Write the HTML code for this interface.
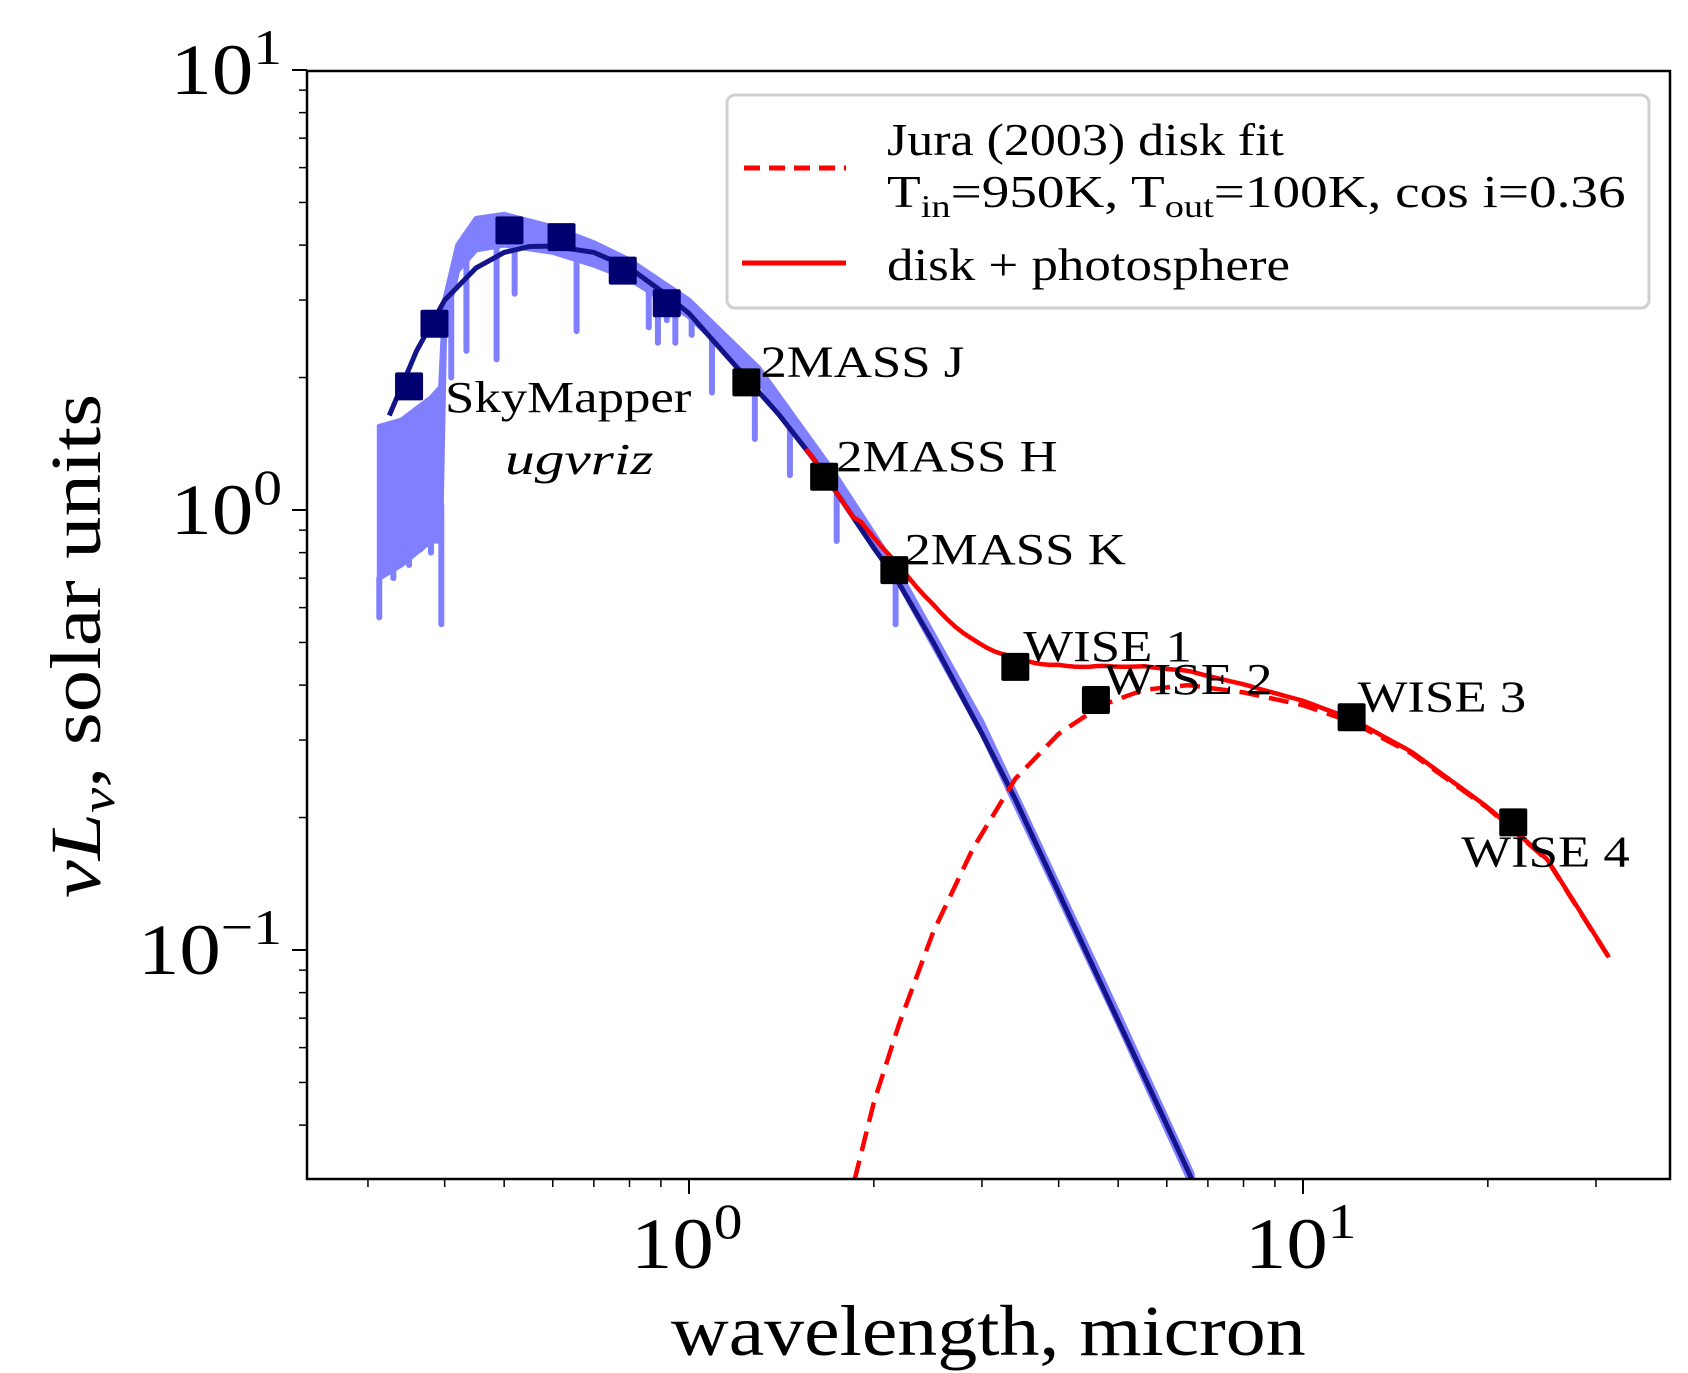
<!DOCTYPE html>
<html><head><meta charset="utf-8"><style>
html,body{margin:0;padding:0;background:#fff;}
svg{display:block;font-family:"Liberation Serif","DejaVu Serif",serif;}
</style></head><body>
<svg id="chart" width="1688" height="1373" viewBox="0 0 1688 1373" xmlns="http://www.w3.org/2000/svg">
<g id="plot"></g>
</svg>
<script>
// ---- data ----
const photoWave = [0.325,0.36,0.40,0.45,0.50,0.55,0.60,0.70,0.80,0.90,1.0,1.2,1.4,1.6,1.8,2.0,2.2,2.5,3.0,3.4,4.0,5.0,6.0,6.6];
const photoFlux = [1.64,2.3,3.0,3.55,3.85,3.97,3.98,3.85,3.55,3.15,2.8,2.1,1.65,1.3,1.02,0.82,0.68,0.50,0.31,0.22,0.135,0.069,0.040,0.030];
const diskWave = [1.86,2.0,2.2,2.5,2.9,3.4,4.0,4.7,5.5,6.5,8,10,12,15,20,25,31.5];
const diskFlux = [0.030,0.045,0.068,0.11,0.17,0.245,0.31,0.36,0.39,0.40,0.385,0.36,0.33,0.28,0.21,0.16,0.096];
const specWave = [0.313,0.34,0.36,0.38,0.394,0.40,0.42,0.45,0.50,0.60,0.70,0.80,1.0,1.3,1.7,2.2,3.0,4.0,5.0,6.6];
const specTop = [1.55,1.6,1.7,1.8,1.9,3.0,4.0,4.6,4.7,4.4,4.05,3.7,3.0,2.1,1.25,0.72,0.33,0.14,0.072,0.031];
const specBot = [0.7,0.75,0.8,0.85,0.85,2.6,3.5,3.9,4.0,3.85,3.6,3.35,2.75,1.95,1.15,0.68,0.31,0.132,0.068,0.029];
const lineWave = [0.313,0.33,0.35,0.365,0.38,0.395,0.41,0.434,0.486,0.52,0.656,0.86,0.89,0.92,0.95,1.01,1.09,1.28,1.46,1.74,2.17];
const lineFlux = [0.57,0.7,0.75,0.85,0.8,0.55,2.0,2.3,2.2,3.1,2.55,2.6,2.4,2.7,2.4,2.5,1.85,1.45,1.2,0.85,0.55];
const photWave = [0.35,0.385,0.51,0.62,0.78,0.92,1.24,1.66,2.16,3.4,4.6,12.0,22.0];
const photFlux = [1.91,2.65,4.32,4.17,3.50,2.95,1.95,1.19,0.73,0.44,0.37,0.338,0.195];
const bandLabels = ["2MASS J","2MASS H","2MASS K","WISE 1","WISE 2","WISE 3","WISE 4"];
const bandLabelIdx = [6,7,8,9,10,11,12];
const xTickVals = [1,10];
const yTickVals = [10,1,0.1];
const yTickExp = ["1","0","\u22121"];
const xTickExp = ["0","1"];

// ---- axes ----
const L=307,R=1670,T=71,B=1179;
const X = v => 689 + 614*Math.log10(v);
const Y = v => 510 - 440*Math.log10(v);
const NS="http://www.w3.org/2000/svg";
const plot=document.getElementById('plot');
function mk(tag,attrs,parent){const e=document.createElementNS(NS,tag);for(const k in attrs)e.setAttribute(k,attrs[k]);(parent||plot).appendChild(e);return e;}
function stretch(el,f){const w=el.getComputedTextLength();el.setAttribute('textLength',(w*f).toFixed(1));el.setAttribute('lengthAdjust','spacingAndGlyphs');}
function interp(ws,fs,w){if(w<=ws[0])return fs[0];for(let i=1;i<ws.length;i++){if(w<=ws[i]){const t=(Math.log(w)-Math.log(ws[i-1]))/(Math.log(ws[i])-Math.log(ws[i-1]));return Math.exp(Math.log(fs[i-1])+t*(Math.log(fs[i])-Math.log(fs[i-1])));}}return fs[fs.length-1];}
function pathFrom(ws,fs){return ws.map((w,i)=>(i?'L':'M')+X(w).toFixed(1)+','+Y(fs[i]).toFixed(1)).join(' ');}

const defs=mk('defs',{});
const cp=mk('clipPath',{id:'clip'},defs);
mk('rect',{x:L,y:T,width:R-L,height:B-T},cp);
const g=mk('g',{'clip-path':'url(#clip)'});

// spectrum band
let d=specWave.map((w,i)=>(i?'L':'M')+X(w).toFixed(1)+','+Y(specTop[i]).toFixed(1)).join(' ');
for(let i=specWave.length-1;i>=0;i--)d+=' L'+X(specWave[i]).toFixed(1)+','+Y(specBot[i]).toFixed(1);
const band=mk('path',{d:d+' Z',fill:'#8080ff',stroke:'#8080ff','stroke-width':5,'stroke-linejoin':'round'},g);


lineWave.forEach((w,i)=>{
  const top=interp(specWave,specBot,w);
  const ln=mk('line',{x1:X(w),x2:X(w),y1:Y(top),y2:Y(lineFlux[i]),stroke:'#8080ff','stroke-width':6,'stroke-linecap':'round'},g);
  
  
});

// photosphere
const ph=mk('path',{d:pathFrom(photoWave,photoFlux),fill:'none',stroke:'#14148a','stroke-width':5},g);



// disk dashed
const dk=mk('path',{d:pathFrom(diskWave,diskFlux),fill:'none',stroke:'#ff0000','stroke-width':4.5,'stroke-dasharray':'20,10'},g);



// total
const tw=[];for(let w=1.55;w<=31.5;w*=1.03)tw.push(w);tw.push(31.5);
const tf=tw.map(w=>(w<=6.6?interp(photoWave,photoFlux,w):0.030*Math.pow(6.6/w,3))+(w>=1.86?interp(diskWave,diskFlux,w):0));
const tt=mk('path',{d:pathFrom(tw,tf),fill:'none',stroke:'#ff0000','stroke-width':4.5},g);



// photometry points
photWave.forEach((w,i)=>{
  const s=mk('rect',{x:X(w)-14,y:Y(photFlux[i])-14,width:28,height:28,rx:2,fill:i<6?'#000070':'#000'},g);
  
  
});

// band labels
const labOff=[[14,-6],[12,-6],[10,-6],[8,-6],[8,-6],[6,-6],[-52,44]];
bandLabels.forEach((t,k)=>{
  const i=bandLabelIdx[k];
  const tx=mk('text',{x:X(photWave[i])+labOff[k][0],y:Y(photFlux[i])+labOff[k][1],'font-size':44,fill:'#000'});
  tx.textContent=t;
  stretch(tx,1.2);
  
  
});
const sm=mk('text',{x:445,y:412,'font-size':44});sm.textContent='SkyMapper';stretch(sm,1.2);


const sm2=mk('text',{x:505,y:474,'font-size':44,'font-style':'italic'});sm2.textContent='ugvriz';stretch(sm2,1.35);



// frame
const fr=mk('rect',{x:L,y:T,width:R-L,height:B-T,fill:'none',stroke:'#000','stroke-width':2.5});



// x ticks
for(let dec=-1;dec<=1;dec++)for(let m=1;m<10;m++){
  const v=m*Math.pow(10,dec);const x=X(v);if(x<L||x>R)continue;
  const tk=mk('line',{x1:x,x2:x,y1:B,y2:B+(m==1?15:8),stroke:'#000','stroke-width':m==1?2:1.5});
  
  
}
xTickVals.forEach((v,i)=>{
  const t=mk('text',{x:X(v)-58,y:1268,'font-size':72});
  t.textContent='10';
  const s=mk('tspan',{dy:-30,'font-size':50},t);s.textContent=xTickExp[i];
  stretch(t,1.15);
  
  
});
// y ticks
for(let dec=-2;dec<=1;dec++)for(let m=1;m<10;m++){
  const v=m*Math.pow(10,dec);const y=Y(v);if(y<T-1||y>B+1)continue;
  const tk=mk('line',{x1:L,x2:L-(m==1?15:8),y1:y,y2:y,stroke:'#000','stroke-width':m==1?2:1.5});
  
  
}
yTickVals.forEach((v,i)=>{
  const t=mk('text',{x:0,y:Y(v)+24,'font-size':72});
  t.textContent='10';
  const s=mk('tspan',{dy:-30,'font-size':50},t);s.textContent=yTickExp[i];
  stretch(t,1.15);
  const w=parseFloat(t.getAttribute('textLength'));
  t.setAttribute('x',(282-w).toFixed(1));
  
  
});
// axis titles
const xt=mk('text',{x:671,y:1355,'font-size':72});xt.textContent='wavelength, micron';stretch(xt,1.11);


const yt=mk('text',{x:-898,y:100,'font-size':72,transform:'rotate(-90)'});
const y1=mk('tspan',{'font-style':'italic'},yt);y1.textContent='\u03BDL';
const y2=mk('tspan',{'font-style':'italic','font-size':48,dy:14},yt);y2.textContent='\u03BD';
const y3=mk('tspan',{dy:-14},yt);y3.textContent=', solar units';
stretch(yt,1.18);



// legend
const lg=mk('g',{});


mk('rect',{x:727,y:95,width:922,height:213,rx:8,fill:'#fff',stroke:'#d0d0d0','stroke-width':3},lg);
mk('line',{x1:744,x2:846,y1:168,y2:168,stroke:'#f00','stroke-width':5,'stroke-dasharray':'16,9'},lg);
mk('line',{x1:742,x2:846,y1:263,y2:263,stroke:'#f00','stroke-width':5},lg);
const l1=mk('text',{x:887,y:155,'font-size':46},lg);l1.textContent='Jura (2003) disk fit';stretch(l1,1.13);


const l2=mk('text',{x:887,y:207,'font-size':46},lg);
l2.innerHTML='T<tspan font-size="32" dy="10">in</tspan><tspan dy="-10">=950K, T</tspan><tspan font-size="32" dy="10">out</tspan><tspan dy="-10">=100K, cos i=0.36</tspan>';
stretch(l2,1.2);


const l3=mk('text',{x:887,y:280,'font-size':46},lg);l3.textContent='disk + photosphere';stretch(l3,1.15);


</script>
</body></html>
